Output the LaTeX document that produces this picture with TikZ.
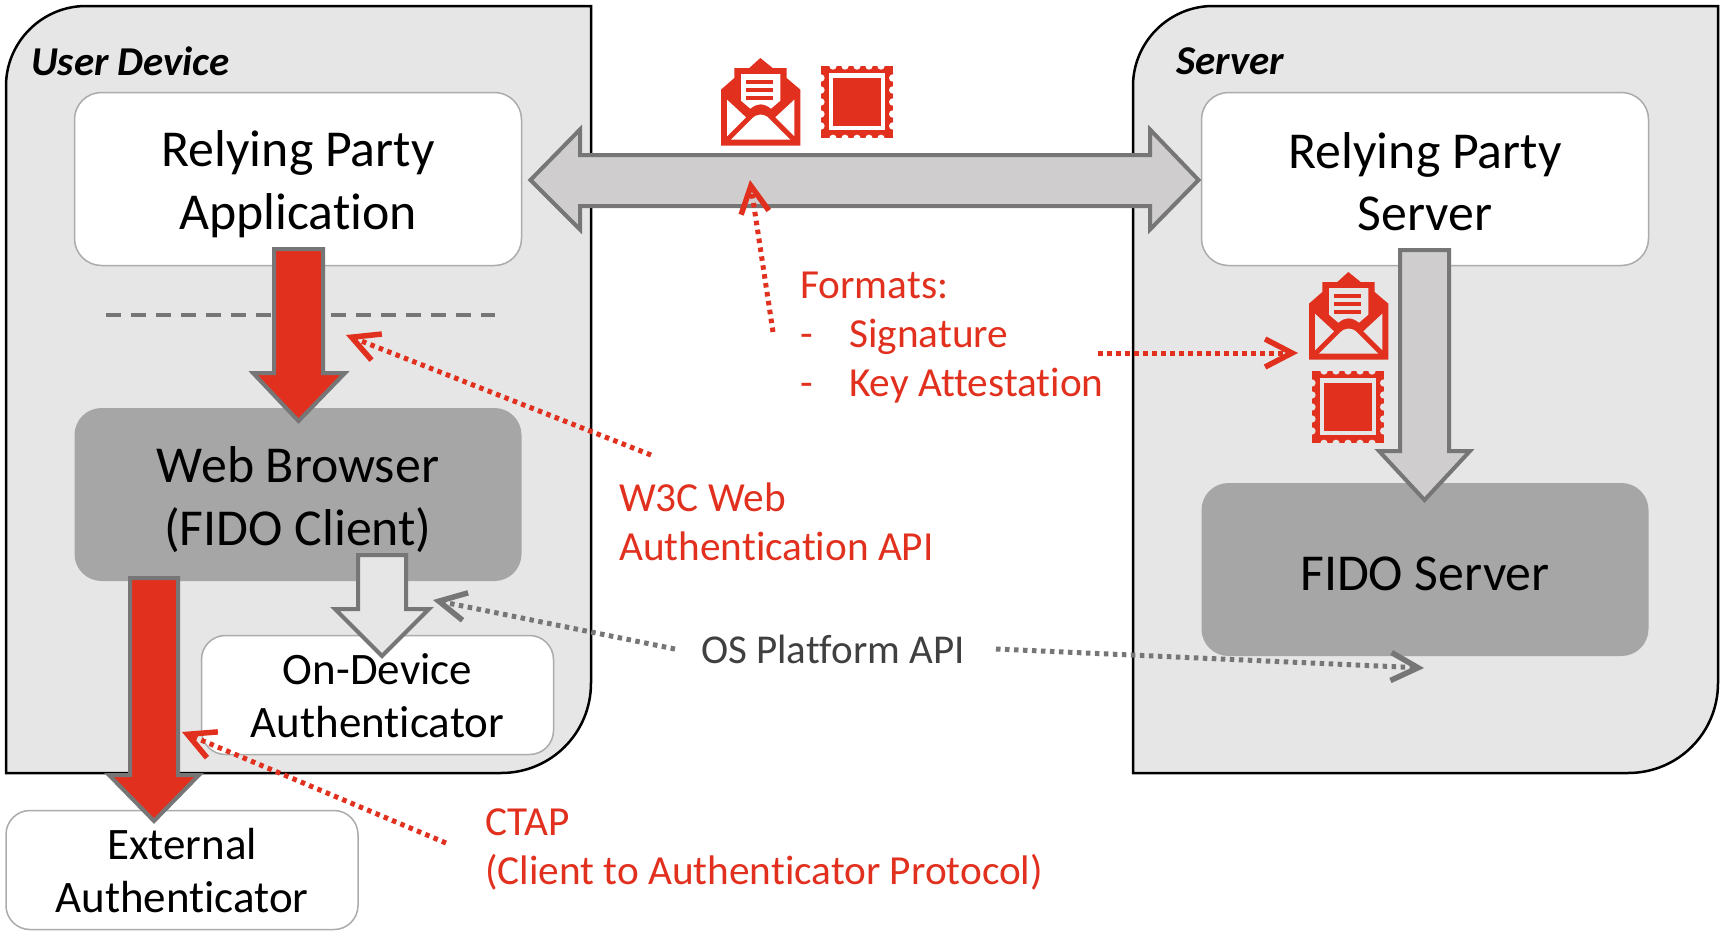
\documentclass[tikz,border=0pt]{standalone}
\usepackage{fontspec}
\setmainfont[Ligatures=NoCommon]{Carlito}
\usetikzlibrary{arrows.meta}
\definecolor{redc}{HTML}{E1301E}
\definecolor{panelc}{HTML}{E6E6E6}
\definecolor{darkbox}{HTML}{A6A6A6}
\definecolor{edgec}{HTML}{767676}
\definecolor{arrowgray}{HTML}{CFCDCE}
\definecolor{boxedge}{HTML}{ABABAB}
\newcommand{\lh}{\rule[-0.1em]{0pt}{1em}}
\newcommand{\lhs}{\rule[-0.15em]{0pt}{1em}}
\tikzset{
  panelpath/.style={draw=black,line width=2.5pt,fill=panelc},
  boxbase/.style={rounded corners=27pt,minimum width=447pt,minimum height=173pt,inner sep=0pt,align=center,font=\fontsize{51.8}{62.5}\selectfont},
  whitebox/.style={boxbase,draw=boxedge,line width=1.5pt,fill=white},
  greybox/.style={boxbase,fill=darkbox},
  smallbox/.style={rounded corners=24pt,draw=boxedge,line width=1.5pt,fill=white,minimum width=352pt,minimum height=119pt,inner sep=0pt,align=center,font=\fontsize{45}{53.5}\selectfont},
  blockarrow/.style={draw=edgec,line width=4pt,line join=miter},
  panellabel/.style={font=\fontsize{41}{48}\selectfont\bfseries\itshape,anchor=west,inner sep=0pt},
  redlabel/.style={text=redc,font=\fontsize{41.3}{49.3}\selectfont,inner sep=0pt,align=left},
  greylabel/.style={text=black!75,font=\fontsize{41}{49.3}\selectfont,inner sep=0pt},
  reddot/.style={draw=redc,line width=5pt,dash pattern=on 4.5pt off 4.5pt,-{Straight Barb[length=27pt,width=28pt,line width=5.5pt]}},
  greydot/.style={draw=edgec,line width=5pt,dash pattern=on 4.5pt off 4.5pt,-{Straight Barb[length=27pt,width=28pt,line width=5.5pt]}},
}
% #1 x, #2 y, #3 background colour
\newcommand{\envelopeicon}[3]{%
  \begin{scope}[shift={(#1,#2)},x=0.3333pt,y=-0.3333pt]
    \fill[redc] (0,263) -- (0,95) -- (40,60) -- (40,30) -- (85,30) -- (118,0) -- (155,30) -- (197,30) -- (197,60) -- (238,95) -- (238,263) -- cycle;
    \fill[#3] (60,48) -- (178,48) -- (178,128) -- (150,152) .. controls (130,135) and (108,135) .. (88,152) -- (60,128) -- cycle;
    \fill[#3] (18,125) -- (75,178) -- (18,235) -- cycle;
    \fill[#3] (220,125) -- (163,178) -- (220,235) -- cycle;
    \fill[#3] (30,245) -- (92,183) .. controls (108,165) and (130,165) .. (146,183) -- (208,245) -- cycle;
    \fill[redc] (75,65) rectangle (155,77);
    \fill[redc] (75,90) rectangle (155,102);
    \fill[redc] (75,113) rectangle (155,125);
  \end{scope}}
\newcommand{\stampicon}[3]{%
  \begin{scope}[shift={(#1,#2)},x=0.3333pt,y=-0.3333pt]
    \fill[redc] (0,0) rectangle (215,217);
    \foreach \p in {36,72,108,144,180}{
      \fill[#3] (\p,0) circle[radius=11];
      \fill[#3] (\p,217) circle[radius=11];
      \fill[#3] (0,\p) circle[radius=11];
      \fill[#3] (215,\p) circle[radius=11];
    }
    \fill[#3] (24,22) rectangle (191,192);
    \fill[redc] (36,37) rectangle (179,180);
  \end{scope}}
% down block arrow: shaft left, shaft right, top, shoulder, head left, head right, tip y, fill
\newcommand{\downarrowblock}[8]{%
  \draw[blockarrow,fill=#8] (#1,#3) -- (#2,#3) -- (#2,#4) -- (#6,#4) -- ({(#1+#2)/2},#7) -- (#5,#4) -- (#1,#4) -- cycle;}
\begin{document}
\begin{tikzpicture}[x=1pt,y=-1pt]
\useasboundingbox (0,0) rectangle (1725,935);
\fill[white] (0,0) rectangle (1725,935);
% panels
\draw[panelpath] (6,86) .. controls (6,42) and (42,6) .. (86,6) -- (591,6) -- (591,683) .. controls (591,733) and (551,773) .. (501,773) -- (6,773) -- cycle;
\draw[panelpath] (1133,86) .. controls (1133,42) and (1169,6) .. (1213,6) -- (1718,6) -- (1718,683) .. controls (1718,733) and (1678,773) .. (1628,773) -- (1133,773) -- cycle;
\node[panellabel] (userlabel) at (31,61) {User Device};
\node[panellabel] (serverlabel) at (1176,61) {Server};
% boxes
\node[whitebox] (rpapp) at (298,179) {\lh Relying Party\\Application\lh};
\node[whitebox] (rpserver) at (1425,179) {\lh Relying Party\\Server\lh};
\node[greybox] (browser) at (298,494.5) {\lh Web Browser\\(FIDO Client)\lh};
\node[greybox] (fido) at (1425,569.5) {\lh FIDO Server};
\node[smallbox] (ondevice) at (377.5,695) {\lhs On-Device\\Authenticator\lhs};
\node[smallbox] (external) at (182,870) {\lhs External\\Authenticator\lhs};
\coordinate (sepL) at (106,315);
\coordinate (sepR) at (495,315);
\draw[edgec,line width=4pt,dash pattern=on 15pt off 10pt] (sepL) -- (sepR);
% block arrows
\draw[blockarrow,fill=arrowgray] (530.5,180) -- (580,129.5) -- (580,155) -- (1150,155) -- (1150,129.5) -- (1198.5,180) -- (1150,229.5) -- (1150,206) -- (580,206) -- (580,229.5) -- cycle;
\downarrowblock{274}{323}{249}{373}{253}{345}{421}{redc}
\downarrowblock{1400}{1449}{250}{451}{1379}{1470}{500}{arrowgray}
\downarrowblock{130}{178}{578}{775}{109}{199}{821}{redc}
\downarrowblock{358}{406}{555}{609}{335}{429}{656}{panelc}
% icons
\envelopeicon{721}{58}{white}
\stampicon{821}{66}{white}
\envelopeicon{1309}{272}{panelc}
\stampicon{1312}{371}{panelc}
% labels
\node[redlabel,anchor=base west] (formats) at (800,298) {Formats:};
\node[redlabel,anchor=base west] (dashA) at (800,347) {-};
\node[redlabel,anchor=base west] (sig) at (849,347) {Signature};
\node[redlabel,anchor=base west] (dashB) at (800,396) {-};
\node[redlabel,anchor=base west] (key) at (849,396) {Key Attestation};
\node[redlabel,anchor=west] (w3c) at (619,519.5) {\lh W3C Web\\Authentication API\lh};
\node[redlabel,anchor=west] (ctap) at (485,844) {\lh CTAP\\(Client to Authenticator Protocol)\lh};
\node[greylabel] (osapi) at (833,649.5) {OS Platform API};
% dotted connectors
\coordinate (a1s) at (651,455); \coordinate (a1e) at (346,335);
\coordinate (a2s) at (773,332); \coordinate (a2e) at (750,180);
\coordinate (a3s) at (1098,353); \coordinate (a3e) at (1298,353);
\coordinate (a4s) at (446,843); \coordinate (a4e) at (182,732);
\coordinate (a5s) at (675,649); \coordinate (a5e) at (433,600);
\coordinate (a6s) at (996,649); \coordinate (a6e) at (1424,668);
\draw[reddot] (a1s) -- (a1e);
\draw[reddot] (a2s) -- (a2e);
\draw[reddot] (a3s) -- (a3e);
\draw[reddot] (a4s) -- (a4e);
\draw[greydot] (a5s) -- (a5e);
\draw[greydot] (a6s) -- (a6e);
\end{tikzpicture}
\end{document}
